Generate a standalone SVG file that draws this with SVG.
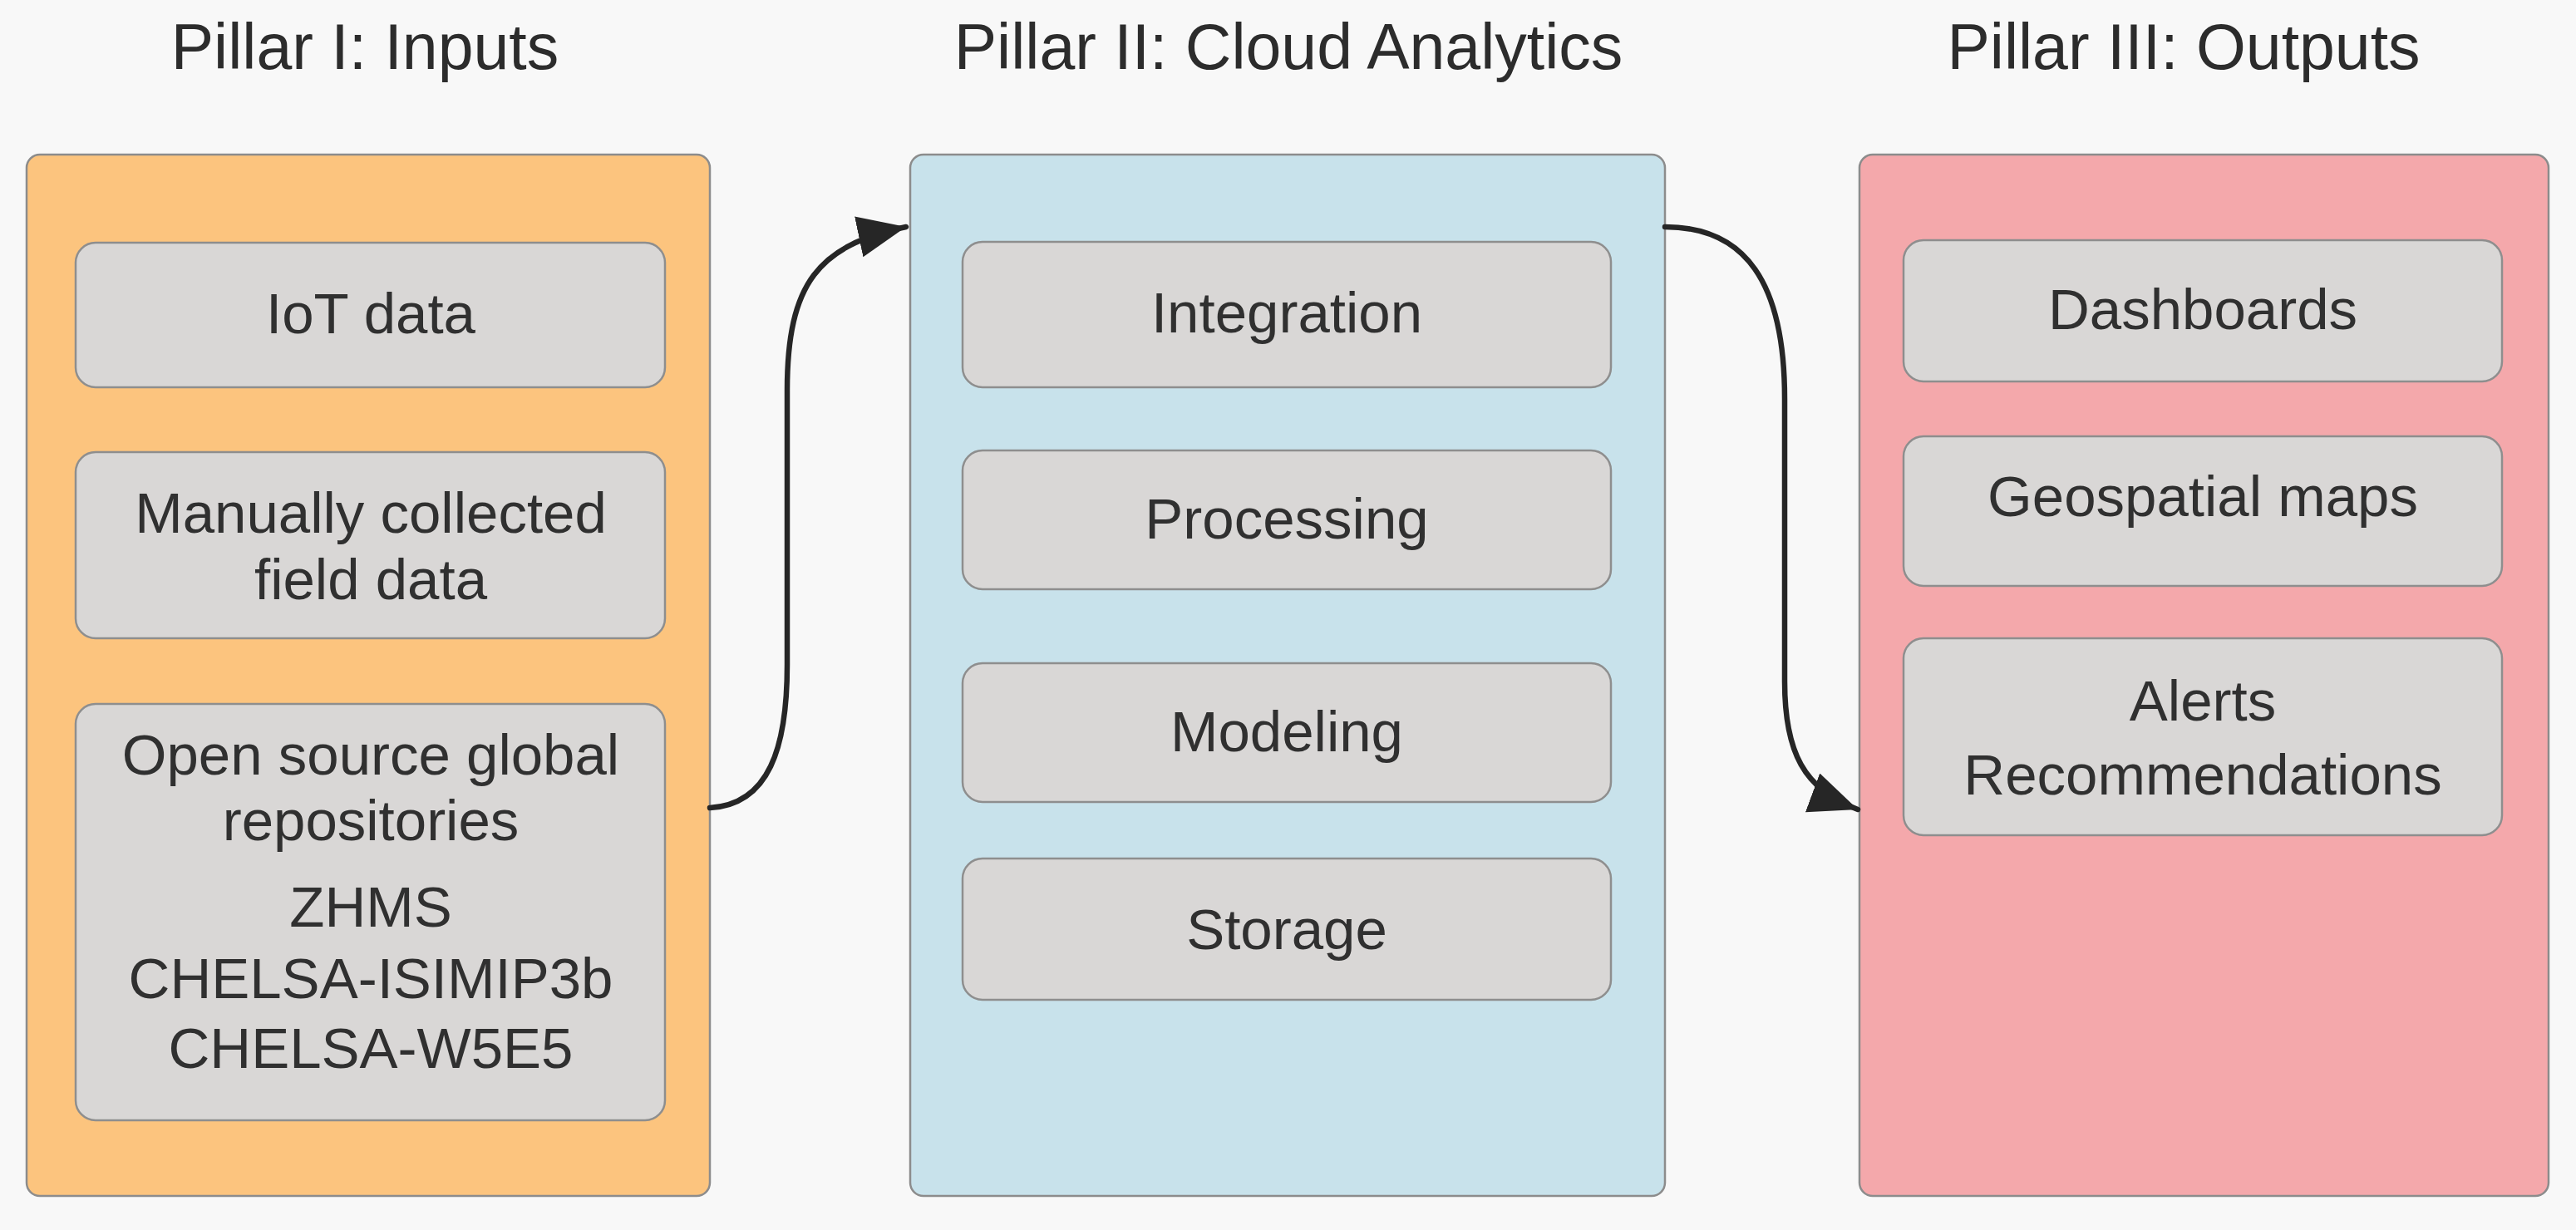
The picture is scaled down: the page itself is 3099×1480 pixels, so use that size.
<svg xmlns="http://www.w3.org/2000/svg" width="3099" height="1480" viewBox="0 0 3099 1480">
  <defs>
    <style>
      .title { font-family: "Liberation Sans", Arial, sans-serif; font-size: 77px; fill: #2c2c2c; text-anchor: middle; }
      .lbl { font-family: "Liberation Sans", Arial, sans-serif; font-size: 69px; fill: #303030; text-anchor: middle; }
      .panel { stroke: #8c8c8c; stroke-width: 2.5; }
      .box { fill: #d9d7d6; stroke: #8e8e8e; stroke-width: 2.5; }
      .conn { fill: none; stroke: #262626; stroke-width: 6.5; stroke-linecap: round; }
    </style>
    <marker id="arrow" markerUnits="userSpaceOnUse" markerWidth="64" markerHeight="54" refX="58" refY="25" orient="auto">
      <path d="M0,0 L58,25 L0,50 Z" fill="#262626"/>
    </marker>
  </defs>

  <rect x="0" y="0" width="3099" height="1480" fill="#f8f8f8"/>

  <!-- Titles -->
  <text class="title" x="439" y="83">Pillar I: Inputs</text>
  <text class="title" x="1550" y="83">Pillar II: Cloud Analytics</text>
  <text class="title" x="2627" y="83">Pillar III: Outputs</text>

  <!-- Pillar I -->
  <g id="pillar-inputs">
    <rect class="panel" x="32" y="186" width="822" height="1253" rx="16" fill="#fcc47e"/>
  </g>
  <g id="iot-data">
    <rect class="box" x="91" y="292" width="709" height="174" rx="24"/>
    <text class="lbl" x="446" y="401">IoT data</text>
  </g>
  <g id="manual-field-data">
    <rect class="box" x="91" y="544" width="709" height="224" rx="24"/>
    <text class="lbl" x="446" y="641">Manually collected</text>
    <text class="lbl" x="446" y="721">field data</text>
  </g>
  <g id="open-source-repos">
    <rect class="box" x="91" y="847" width="709" height="501" rx="24"/>
    <text class="lbl" x="446" y="932">Open source global</text>
    <text class="lbl" x="446" y="1011">repositories</text>
    <text class="lbl" x="446" y="1115">ZHMS</text>
    <text class="lbl" x="446" y="1201">CHELSA-ISIMIP3b</text>
    <text class="lbl" x="446" y="1285">CHELSA-W5E5</text>
  </g>

  <!-- Pillar II -->
  <g id="pillar-cloud">
    <rect class="panel" x="1095" y="186" width="908" height="1253" rx="16" fill="#c8e2eb"/>
  </g>
  <g id="integration">
    <rect class="box" x="1158" y="291" width="780" height="175" rx="24"/>
    <text class="lbl" x="1548" y="400">Integration</text>
  </g>
  <g id="processing">
    <rect class="box" x="1158" y="542" width="780" height="167" rx="24"/>
    <text class="lbl" x="1548" y="648">Processing</text>
  </g>
  <g id="modeling">
    <rect class="box" x="1158" y="798" width="780" height="167" rx="24"/>
    <text class="lbl" x="1548" y="904">Modeling</text>
  </g>
  <g id="storage">
    <rect class="box" x="1158" y="1033" width="780" height="170" rx="24"/>
    <text class="lbl" x="1548" y="1142">Storage</text>
  </g>

  <!-- Pillar III -->
  <g id="pillar-outputs">
    <rect class="panel" x="2237" y="186" width="829" height="1253" rx="16" fill="#f4a8ab"/>
  </g>
  <g id="dashboards">
    <rect class="box" x="2290" y="289" width="720" height="170" rx="24"/>
    <text class="lbl" x="2650" y="396">Dashboards</text>
  </g>
  <g id="geospatial-maps">
    <rect class="box" x="2290" y="525" width="720" height="180" rx="24"/>
    <text class="lbl" x="2650" y="621">Geospatial maps</text>
  </g>
  <g id="alerts-recommendations">
    <rect class="box" x="2290" y="768" width="720" height="237" rx="24"/>
    <text class="lbl" x="2650" y="867">Alerts</text>
    <text class="lbl" x="2650" y="956">Recommendations</text>
  </g>

  <!-- Connectors -->
  <g id="connectors">
    <path class="conn" d="M 854 972 C 925 968, 947 900, 947 800 L 947 470 C 947 340, 985 295, 1090 273" marker-end="url(#arrow)"/>
    <path class="conn" d="M 2003 273 C 2100 273, 2147 340, 2147 480 L 2147 820 C 2147 905, 2170 950, 2235 974" marker-end="url(#arrow)"/>
  </g>
</svg>
